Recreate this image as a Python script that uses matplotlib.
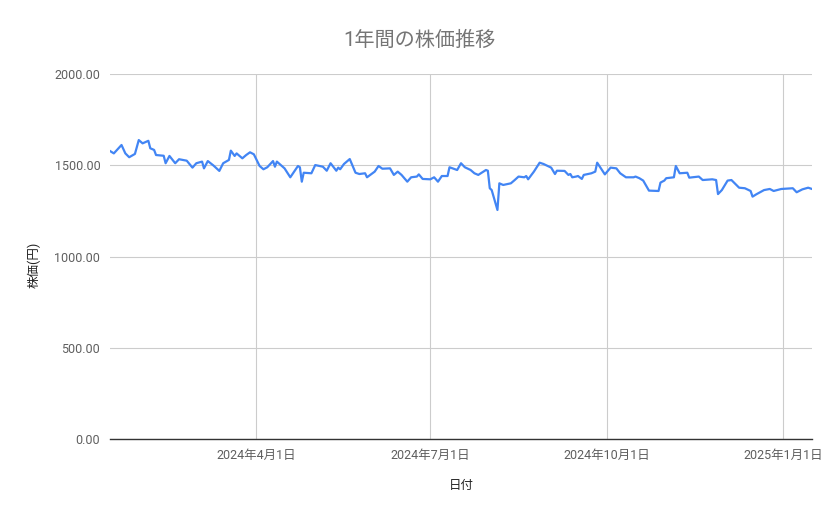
import matplotlib
matplotlib.use("Agg")
import matplotlib.pyplot as plt
import matplotlib.dates as mdates
import numpy as np
import pandas as pd

plt.rcParams['font.family'] = ['Roboto', 'Noto Sans CJK JP', 'DejaVu Sans']

title = "1年間の株価推移"
x_label = "日付"
y_label = "株価(円)"

dates = [
    "2024-01-16", "2024-01-18", "2024-01-22", "2024-01-24", "2024-01-26", "2024-01-29",
    "2024-01-31", "2024-02-02", "2024-02-05", "2024-02-06", "2024-02-08", "2024-02-09",
    "2024-02-13", "2024-02-14", "2024-02-16", "2024-02-19", "2024-02-21", "2024-02-25",
    "2024-02-28", "2024-03-01", "2024-03-04", "2024-03-05", "2024-03-07", "2024-03-10",
    "2024-03-13", "2024-03-15", "2024-03-18", "2024-03-19", "2024-03-21", "2024-03-22",
    "2024-03-25", "2024-03-27", "2024-03-29", "2024-03-31", "2024-04-03", "2024-04-05",
    "2024-04-07", "2024-04-10", "2024-04-11", "2024-04-12", "2024-04-16", "2024-04-19",
    "2024-04-23", "2024-04-24", "2024-04-25", "2024-04-26", "2024-04-30", "2024-05-02",
    "2024-05-06", "2024-05-08", "2024-05-10", "2024-05-13", "2024-05-14", "2024-05-15",
    "2024-05-17", "2024-05-20", "2024-05-23", "2024-05-25", "2024-05-28", "2024-05-29",
    "2024-06-02", "2024-06-04", "2024-06-06", "2024-06-10", "2024-06-12", "2024-06-14",
    "2024-06-16", "2024-06-19", "2024-06-21", "2024-06-24", "2024-06-25", "2024-06-27",
    "2024-07-01", "2024-07-03", "2024-07-05", "2024-07-07", "2024-07-10", "2024-07-11",
    "2024-07-15", "2024-07-17", "2024-07-19", "2024-07-22", "2024-07-24", "2024-07-26",
    "2024-07-30", "2024-07-31", "2024-08-01", "2024-08-02", "2024-08-05", "2024-08-06",
    "2024-08-08", "2024-08-12", "2024-08-14", "2024-08-16", "2024-08-19", "2024-08-20",
    "2024-08-21", "2024-08-24", "2024-08-27", "2024-08-29", "2024-09-02", "2024-09-04",
    "2024-09-05", "2024-09-09", "2024-09-11", "2024-09-12", "2024-09-13", "2024-09-15",
    "2024-09-16", "2024-09-18", "2024-09-19", "2024-09-23", "2024-09-25", "2024-09-26",
    "2024-09-30", "2024-10-03", "2024-10-06", "2024-10-08", "2024-10-11", "2024-10-15",
    "2024-10-16", "2024-10-18", "2024-10-20", "2024-10-23", "2024-10-28", "2024-10-29",
    "2024-10-31", "2024-11-01", "2024-11-05", "2024-11-06", "2024-11-08", "2024-11-12",
    "2024-11-13", "2024-11-18", "2024-11-20", "2024-11-25", "2024-11-27", "2024-11-28",
    "2024-11-30", "2024-12-03", "2024-12-05", "2024-12-09", "2024-12-12", "2024-12-15",
    "2024-12-16", "2024-12-18", "2024-12-22", "2024-12-25", "2024-12-27", "2024-12-31",
    "2025-01-06", "2025-01-08", "2025-01-11", "2025-01-14", "2025-01-16",
]

prices = [
    1578, 1565, 1611, 1565, 1544, 1562,
    1638, 1620, 1634, 1593, 1584, 1556,
    1552, 1511, 1551, 1511, 1533, 1525,
    1487, 1511, 1520, 1483, 1523, 1498,
    1469, 1511, 1529, 1580, 1551, 1565,
    1538, 1556, 1571, 1560, 1496, 1478,
    1489, 1523, 1492, 1520, 1483, 1434,
    1496, 1489, 1410, 1459, 1456, 1501,
    1492, 1470, 1511, 1470, 1487, 1478,
    1507, 1534, 1459, 1452, 1456, 1434,
    1465, 1496, 1481, 1483, 1447, 1465,
    1447, 1410, 1434, 1438, 1450, 1425,
    1423, 1434, 1410, 1441, 1441, 1489,
    1474, 1511, 1489, 1474, 1456, 1447,
    1474, 1470, 1374, 1364, 1255, 1401,
    1392, 1401, 1419, 1438, 1434, 1441,
    1423, 1465, 1514, 1507, 1487, 1452,
    1470, 1469, 1447, 1452, 1434, 1438,
    1441, 1425, 1447, 1456, 1465, 1514,
    1450, 1487, 1483, 1456, 1434, 1434,
    1438, 1429, 1416, 1361, 1359, 1405,
    1416, 1429, 1434, 1496, 1456, 1459,
    1432, 1438, 1419, 1423, 1419, 1342,
    1364, 1416, 1419, 1377, 1374, 1359,
    1328, 1341, 1364, 1370, 1359, 1370,
    1374, 1352, 1368, 1377, 1370,
]

x_tick_dates = ["2024-04-01", "2024-07-01", "2024-10-01", "2025-01-01"]
x_tick_labels = ["2024年4月1日", "2024年7月1日", "2024年10月1日", "2025年1月1日"]
y_ticks = [0, 500, 1000, 1500, 2000]

d = pd.to_datetime(dates)
xt = pd.to_datetime(x_tick_dates)

fig = plt.figure(figsize=(8.39, 5.19), dpi=100)
ax = fig.add_axes([110/839, 1-439/519, (812-110)/839, (439-74)/519])

ax.plot(d, prices, color="#4285F4", linewidth=1.6, solid_joinstyle="round")

ax.set_xlim(d[0], d[-1])
ax.set_ylim(0, 2000)
ax.set_yticks(y_ticks)
ax.set_yticklabels([f"{v:.2f}" for v in y_ticks])
ax.set_xticks(xt)
ax.set_xticklabels(x_tick_labels)

ax.grid(True, color="#cccccc", linewidth=0.8)
ax.set_axisbelow(True)
for s in ["top", "right", "left"]:
    ax.spines[s].set_visible(False)
ax.spines["bottom"].set_color("#333333")
ax.spines["bottom"].set_linewidth(1.0)
ax.spines["bottom"].set_zorder(3)

ax.tick_params(axis="y", length=0, pad=7, labelsize=9, labelcolor="#5f5f5f")
ax.tick_params(axis="x", length=0, pad=7, labelsize=9, labelcolor="#5f5f5f")

fig.text(0.5, 1-40/519, title, ha="center", va="center", fontsize=14.5, color="#757575")
fig.text(461/839, 1-486/519, x_label, ha="center", va="center", fontsize=9, color="#222222")
fig.text(34/839, 1-265/519, y_label, ha="center", va="center", rotation=90, fontsize=9, color="#222222")

fig.savefig("out.png", dpi=100, facecolor="white")
